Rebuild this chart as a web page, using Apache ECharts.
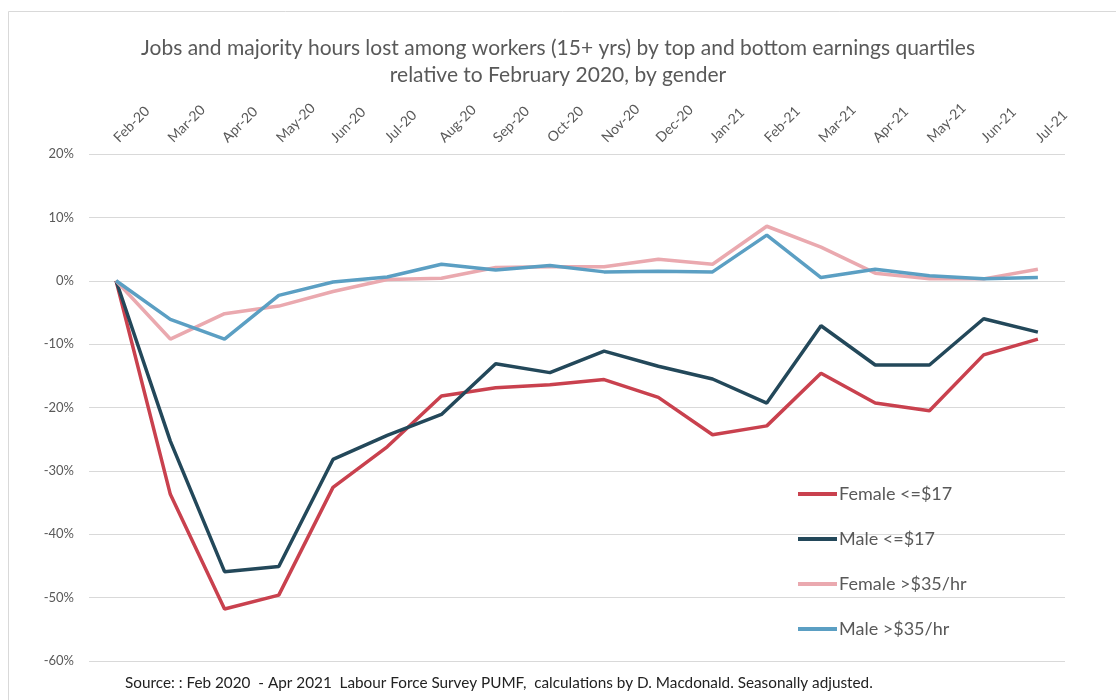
<!DOCTYPE html>
<html>
<head>
<meta charset="utf-8">
<script src="https://cdn.jsdelivr.net/npm/echarts@6/dist/echarts.min.js"></script>
<style>
  html, body { margin: 0; padding: 0; background: #fff; }
  #js-echarts { width: 1116px; height: 700px; }
</style>
</head>
<body>
<div id="js-echarts"></div>
<script>
const months = [
  'Feb-20', 'Mar-20', 'Apr-20', 'May-20', 'Jun-20', 'Jul-20', 'Aug-20', 'Sep-20', 'Oct-20',
  'Nov-20', 'Dec-20', 'Jan-21', 'Feb-21', 'Mar-21', 'Apr-21', 'May-21', 'Jun-21', 'Jul-21'
];
const femaleLow = [0, -33.7, -51.8, -49.6, -32.6, -26.2, -18.2, -16.9, -16.4, -15.6, -18.4, -24.3, -22.9, -14.6, -19.3, -20.5, -11.7, -9.2];
const maleLow = [0, -25.3, -45.9, -45.1, -28.2, -24.4, -21.1, -13.1, -14.5, -11.1, -13.5, -15.5, -19.3, -7.1, -13.3, -13.3, -6.0, -8.1];
const femaleHigh = [0, -9.2, -5.2, -4.0, -1.7, 0.2, 0.4, 2.1, 2.2, 2.2, 3.4, 2.6, 8.6, 5.3, 1.2, 0.3, 0.3, 1.8];
const maleHigh = [0, -6.1, -9.2, -2.3, -0.2, 0.6, 2.6, 1.7, 2.4, 1.4, 1.5, 1.4, 7.2, 0.5, 1.8, 0.8, 0.3, 0.5];

const chartDom = document.getElementById('js-echarts');
if (chartDom) {
  const chart = echarts.init(chartDom);
  const theme = {
    red: '#C9414E',
    navy: '#23485A',
    pink: '#EAA9AF',
    blue: '#5B9FC3',
    grid: '#D9D9D9',
    text: '#595959'
  };
  const font = 'Lato, "Open Sans", sans-serif';

  const makeLine = (name, data, color) => ({
    name: name,
    type: 'line',
    data: data,
    symbol: 'none',
    lineStyle: { color: color, width: 3.5 },
    itemStyle: { color: color }
  });

  const option = {
    backgroundColor: '#fff',
    animation: false,
    title: {
      text: 'Jobs and majority hours lost among workers (15+ yrs) by top and bottom earnings quartiles\nrelative to February 2020, by gender',
      left: 'center',
      top: 30,
      textStyle: {
        color: theme.text,
        fontFamily: font,
        fontWeight: 'normal',
        fontSize: 21,
        lineHeight: 27
      }
    },
    legend: {
      orient: 'vertical',
      left: 793,
      top: 480,
      itemWidth: 39,
      itemHeight: 4,
      itemGap: 27,
      icon: 'rect',
      textStyle: {
        color: theme.text,
        fontFamily: font,
        fontSize: 18,
        padding: [0, 0, 0, -3]
      }
    },
    grid: {
      left: 89,
      right: 51,
      top: 154,
      bottom: 39
    },
    xAxis: {
      type: 'category',
      position: 'top',
      data: months,
      axisTick: { show: false },
      axisLine: { show: false },
      axisLabel: {
        rotate: 45,
        margin: 14,
        interval: 0,
        color: theme.text,
        fontFamily: font,
        fontSize: 14
      }
    },
    yAxis: {
      type: 'value',
      min: -60,
      max: 20,
      interval: 10,
      axisLine: { show: false },
      axisTick: { show: false },
      axisLabel: {
        margin: 15,
        color: theme.text,
        fontFamily: font,
        fontSize: 13,
        formatter: (v) => v + '%'
      },
      splitLine: { lineStyle: { color: theme.grid, width: 1 } }
    },
    series: [
      makeLine('Female <=$17', femaleLow, theme.red),
      makeLine('Male <=$17', maleLow, theme.navy),
      makeLine('Female >$35/hr', femaleHigh, theme.pink),
      makeLine('Male >$35/hr', maleHigh, theme.blue)
    ],
    graphic: [
      {
        type: 'rect',
        shape: { x: 8.5, y: 11.5, width: 1120, height: 700 },
        style: { fill: 'none', stroke: '#D9D9D9', lineWidth: 1 },
        silent: true
      },
      {
        type: 'text',
        left: 125,
        top: 676,
        style: {
          text: 'Source: : Feb 2020  - Apr 2021  Labour Force Survey PUMF,  calculations by D. Macdonald. Seasonally adjusted.',
          fill: '#222',
          font: '15.3px ' + font
        }
      }
    ]
  };

  chart.setOption(option);
}
</script>
</body>
</html>
